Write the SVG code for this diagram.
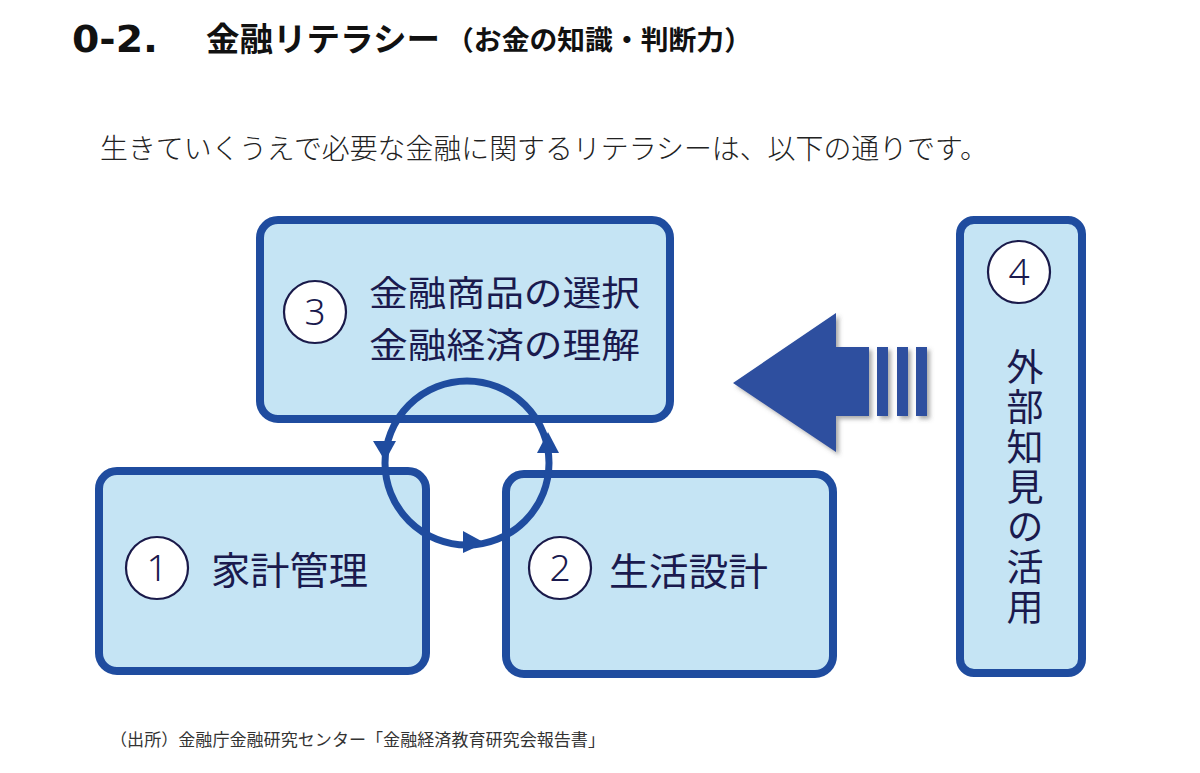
<svg xmlns="http://www.w3.org/2000/svg" width="1200" height="773" viewBox="0 0 1200 773">
<defs>
<style>
.box{fill:#c5e4f4;stroke:#1f4c9f;stroke-width:8}
.num{fill:#ffffff;stroke:#1a1a4a;stroke-width:2.2}
.jp{font-family:"Noto Sans CJK JP","Noto Sans",sans-serif;fill:#1a1a4e}
.lbl{font-size:38px}
.numt{font-family:"Noto Sans","DejaVu Sans",sans-serif;font-size:37px;fill:#1a1a4e;text-anchor:middle;font-weight:300}
.cyc{fill:none;stroke:#1f4c9f;stroke-width:7}
.head{fill:#1f4c9f}
</style>
<filter id="sh" x="-10%" y="-10%" width="130%" height="130%">
<feDropShadow dx="3" dy="3" stdDeviation="2" flood-color="#555" flood-opacity="0.5"/>
</filter>
</defs>
<rect width="1200" height="773" fill="#ffffff"/>
<g id="title">
<text x="72" y="52" font-family="'DejaVu Sans',sans-serif" font-weight="bold" font-size="38" fill="#111" textLength="86" lengthAdjust="spacingAndGlyphs">0-2.</text>
<text x="206" y="51" class="jp" style="fill:#111" font-weight="bold" font-size="33" textLength="234" lengthAdjust="spacingAndGlyphs">金融リテラシー</text>
<text x="446" y="50" class="jp" style="fill:#111" font-weight="bold" font-size="27" textLength="306" lengthAdjust="spacingAndGlyphs">（お金の知識・判断力）</text>
</g>
<text id="subtitle" x="100" y="159" class="jp" style="fill:#222" font-size="28" font-weight="300" textLength="888" lengthAdjust="spacingAndGlyphs">生きていくうえで必要な金融に関するリテラシーは、以下の通りです。</text>
<g id="node3">
<rect class="box" x="260" y="220" width="410" height="199" rx="18"/>
<circle class="num" cx="315" cy="312" r="31"/>
<text class="numt" x="315" y="325">3</text>
<text class="jp" font-size="35.5" x="369" y="306" textLength="271" lengthAdjust="spacingAndGlyphs">金融商品の選択</text>
<text class="jp" font-size="35.5" x="369" y="358" textLength="271" lengthAdjust="spacingAndGlyphs">金融経済の理解</text>
</g>
<g id="node1">
<rect class="box" x="99" y="471" width="327" height="200" rx="18"/>
<circle class="num" cx="157" cy="568" r="31"/>
<text class="numt" x="157" y="581">1</text>
<text class="jp lbl" x="211" y="584" textLength="157" lengthAdjust="spacingAndGlyphs">家計管理</text>
</g>
<g id="node2">
<rect class="box" x="506" y="474" width="327" height="200" rx="18"/>
<circle class="num" cx="560" cy="568" r="31"/>
<text class="numt" x="560" y="581">2</text>
<text class="jp lbl" x="609" y="585" textLength="159" lengthAdjust="spacingAndGlyphs">生活設計</text>
</g>
<g id="node4">
<rect class="box" x="960" y="220" width="122" height="453" rx="14"/>
<circle class="num" cx="1019" cy="272" r="31"/>
<text class="numt" x="1019" y="285">4</text>
<text class="jp" x="1025" y="348" font-size="37" style="writing-mode:vertical-rl;letter-spacing:3px">外部知見の活用</text>
</g>
<g id="connectors">
<circle class="cyc" cx="467" cy="463" r="82"/>
<polygon class="head" points="373,441 396,441 385,461"/>
<polygon class="head" points="537,453 559,453 548,432"/>
<polygon class="head" points="463,531 463,553 485,543"/>
<g filter="url(#sh)" fill="#2d4f9f">
<polygon points="733,383 836,313 836,347 869,347 869,416 836,416 836,452"/>
<rect x="877" y="347" width="11" height="69"/>
<rect x="897" y="347" width="11" height="69"/>
<rect x="916" y="347" width="11" height="69"/>
</g>
</g>
<text id="source" x="110" y="746" class="jp" style="fill:#333" font-size="16.5" textLength="495" lengthAdjust="spacingAndGlyphs">（出所）金融庁金融研究センター「金融経済教育研究会報告書」</text>
</svg>
